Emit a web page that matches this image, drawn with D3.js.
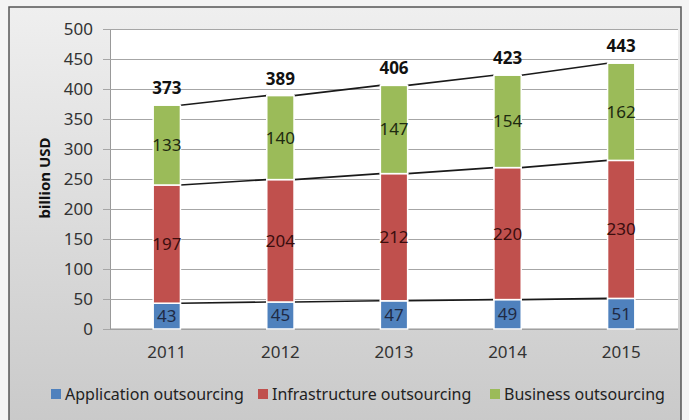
<!DOCTYPE html>
<html>
<head>
<meta charset="utf-8">
<script src="https://cdn.jsdelivr.net/npm/d3@7"></script>
<style>
body { margin: 0; }
svg text { font-family: "Noto Sans", "Open Sans", sans-serif; }
</style>
</head>
<body>
<div id="chart"></div>
<script>
var years = ["2011", "2012", "2013", "2014", "2015"]
var application = [43, 45, 47, 49, 51]
var infrastructure = [197, 204, 212, 220, 230]
var business = [133, 140, 147, 154, 162]
var totals = [373, 389, 406, 423, 443]
var seriesNames = ["Application outsourcing", "Infrastructure outsourcing", "Business outsourcing"]
var colors = ["#4f81bd", "#c0504d", "#9bbb59"]
var yTicks = [0, 50, 100, 150, 200, 250, 300, 350, 400, 450, 500]

var width = 689, height = 420
var margin = {top: 29, right: 11, bottom: 91, left: 110}

var svg = d3.select("#chart").append("svg")
	.attr("width", width)
	.attr("height", height)

var defs = svg.append("defs")
var grad = defs.append("linearGradient").attr("id", "bg").attr("x1", 0).attr("y1", 0).attr("x2", 0).attr("y2", 1)
grad.append("stop").attr("offset", "0%").attr("stop-color", "#efefef")
grad.append("stop").attr("offset", "100%").attr("stop-color", "#c9c9c9")

svg.append("rect").attr("width", width).attr("height", height).attr("fill", "#f4f4f4")
svg.append("rect")
	.attr("x", 9).attr("y", 7)
	.attr("width", 672).attr("height", 420)
	.attr("fill", "url(#bg)")
	.attr("stroke", "#555").attr("stroke-width", 1.5)

var x = d3.scaleBand().domain(years).range([margin.left, width - margin.right]).paddingInner(0.76).paddingOuter(0.38)
var y = d3.scaleLinear().domain([0, 500]).range([height - margin.bottom, margin.top])

// plot area
svg.append("rect")
	.attr("x", margin.left).attr("y", margin.top)
	.attr("width", width - margin.left - margin.right)
	.attr("height", y(0) - margin.top)
	.attr("fill", "#fff")

var yAxis = d3.axisLeft(y).tickValues(yTicks).tickSize(-(width - margin.left - margin.right)).tickSizeOuter(0).tickPadding(17)
var gy = svg.append("g").attr("transform", "translate(" + margin.left + ",0)").call(yAxis)
gy.select(".domain").attr("stroke", "#999")
gy.selectAll(".tick line").attr("stroke", "#a6a6a6").attr("x1", -7)
gy.selectAll(".tick text").attr("font-size", 17).attr("fill", "#333")

svg.append("line")
	.attr("x1", margin.left).attr("x2", width - margin.right)
	.attr("y1", y(0)).attr("y2", y(0))
	.attr("stroke", "#999")

var xAxis = d3.axisBottom(x).tickSize(0).tickPadding(17)
var gx = svg.append("g").attr("transform", "translate(0," + y(0) + ")").call(xAxis)
gx.select(".domain").remove()
gx.selectAll(".tick text").attr("font-size", 17).attr("fill", "#333")

svg.append("text")
	.attr("transform", "translate(50," + 178 + ") rotate(-90)")
	.attr("text-anchor", "middle")
	.attr("font-size", 15).attr("font-weight", "bold").attr("fill", "#111")
	.text("billion USD")

var rows = years.map(function(d, i) {
	return {year: d, values: [application[i], infrastructure[i], business[i]], total: totals[i]}
})

var segs = []
rows.forEach(function(r) {
	var base = 0
	r.values.forEach(function(v, k) {
		segs.push({year: r.year, k: k, y0: base, y1: base + v, v: v})
		base += v
	})
})

// connecting lines
for (var k = 0; k < 3; k++) {
	var tops = segs.filter(function(s) { return s.k == k })
	for (var i = 0; i < tops.length - 1; i++) {
		svg.append("line")
			.attr("x1", x(tops[i].year) + x.bandwidth())
			.attr("x2", x(tops[i + 1].year))
			.attr("y1", y(tops[i].y1))
			.attr("y2", y(tops[i + 1].y1))
			.attr("stroke", "#1a1a1a").attr("stroke-width", 1.6)
	}
}

svg.selectAll(".bar")
	.data(segs)
	.enter().append("rect")
	.attr("class", "bar")
	.attr("x", function(d) { return x(d.year) })
	.attr("width", x.bandwidth())
	.attr("y", function(d) { return y(d.y1) })
	.attr("height", function(d) { return y(d.y0) - y(d.y1) })
	.attr("fill", function(d) { return colors[d.k] })
	.attr("stroke", "#fff").attr("stroke-width", 1.5)

svg.selectAll(".seglabel")
	.data(segs)
	.enter().append("text")
	.attr("class", "seglabel")
	.attr("x", function(d) { return x(d.year) + x.bandwidth() / 2 })
	.attr("y", function(d) { return (y(d.y0) + y(d.y1)) / 2 })
	.attr("dy", "0.35em")
	.attr("text-anchor", "middle")
	.attr("font-size", 17)
	.attr("fill", function(d) { return d.k == 0 ? "#1f2a44" : d.k == 1 ? "#3a0d0d" : "#1e2a10" })
	.text(function(d) { return d.v })

svg.selectAll(".total")
	.data(rows)
	.enter().append("text")
	.attr("class", "total")
	.attr("x", function(d) { return x(d.year) + x.bandwidth() / 2 })
	.attr("y", function(d) { return y(d.total) - 11 })
	.attr("text-anchor", "middle")
	.attr("font-size", 17).attr("font-weight", "bold").attr("fill", "#111")
	.text(function(d) { return d.total })

// legend
var legendX = [51, 258, 490]
var legend = svg.selectAll(".legend")
	.data(seriesNames)
	.enter().append("g")
	.attr("class", "legend")
	.attr("transform", function(d, i) { return "translate(" + legendX[i] + ",394)" })
legend.append("rect").attr("x", 0).attr("y", -5).attr("width", 10).attr("height", 10)
	.attr("fill", function(d, i) { return colors[i] })
legend.append("text").attr("x", 14).attr("dy", "0.35em")
	.attr("font-size", 16).attr("fill", "#222")
	.text(function(d) { return d })
</script>
</body>
</html>
